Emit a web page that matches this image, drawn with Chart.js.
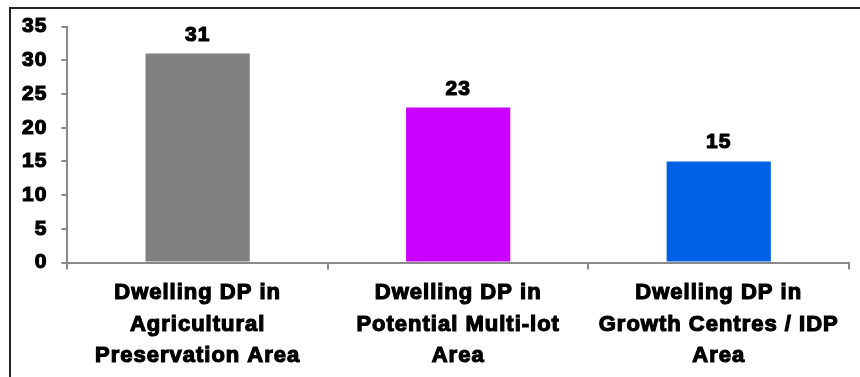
<!DOCTYPE html>
<html>
<head>
<meta charset="utf-8">
<script src="https://cdn.jsdelivr.net/npm/chart.js@4"></script>
<style>
  html, body { margin: 0; padding: 0; background: #fff; }
  #wrap { position: relative; width: 860px; height: 377px; overflow: hidden; }
  #frame { position: absolute; left: 9px; top: 7px; right: -10px; bottom: -10px;
           border-top: 2px solid #222; border-left: 2px solid #222; }
  canvas { position: absolute; left: 0; top: 0; }
</style>
</head>
<body>
<div id="wrap">
  <div id="frame"></div>
  <canvas id="c" width="860" height="377"></canvas>
</div>
<script>
// Development permits by area
const categories = [
  ["Dwelling DP in", "Agricultural", "Preservation Area"],
  ["Dwelling DP in", "Potential Multi-lot", "Area"],
  ["Dwelling DP in", "Growth Centres / IDP", "Area"]
];
const permitCounts = [31, 23, 15];
const barColors = ["#808080", "#CC00FF", "#0060E6"];
const yTicks = [0, 5, 10, 15, 20, 25, 30, 35];

const FONT = "'Liberation Sans', Arial, sans-serif";
const AXIS = "#8a8a8a";
const HEAVY = 1.2;   // extra stroke to thicken the bold glyphs

// Slightly spaced, heavy lettering for every text on the canvas
const heavyText = {
  id: 'heavyText',
  beforeInit(chart) { chart.ctx.letterSpacing = '1px'; },
  beforeLayout(chart) { chart.ctx.letterSpacing = '1px'; },
  beforeDraw(chart) { chart.ctx.letterSpacing = '1px'; }
};

// Value labels above each bar
const valueLabels = {
  id: 'valueLabels',
  afterDatasetsDraw(chart) {
    const ctx = chart.ctx;
    ctx.save();
    ctx.font = "bold 21px " + FONT;
    ctx.fillStyle = "#000";
    ctx.strokeStyle = "#000";
    ctx.lineWidth = HEAVY;
    ctx.lineJoin = "round";
    ctx.textAlign = "center";
    ctx.textBaseline = "alphabetic";
    chart.data.datasets.forEach((ds, di) => {
      chart.getDatasetMeta(di).data.forEach((bar, i) => {
        const t = String(ds.data[i]);
        ctx.strokeText(t, bar.x, bar.y - 13);
        ctx.fillText(t, bar.x, bar.y - 13);
      });
    });
    ctx.restore();
  }
};

new Chart(document.getElementById('c'), {
  type: 'bar',
  data: {
    labels: categories,
    datasets: [{
      data: permitCounts,
      backgroundColor: barColors,
      borderWidth: 0,
      categoryPercentage: 1,
      barPercentage: 0.4
    }]
  },
  options: {
    responsive: false,
    animation: false,
    devicePixelRatio: 1,
    layout: { padding: { left: 8, right: 11, top: 24, bottom: -3 } },
    plugins: { legend: { display: false }, tooltip: { enabled: false } },
    scales: {
      x: {
        grid: { offset: true, drawOnChartArea: false, color: AXIS, lineWidth: 2, tickLength: 7 },
        border: { color: AXIS, width: 2 },
        ticks: {
          color: "#000",
          textStrokeColor: "#000",
          textStrokeWidth: HEAVY,
          font: { family: FONT, size: 22, weight: 'bold', lineHeight: 1.43 },
          padding: 8,
          maxRotation: 0,
          autoSkip: false
        }
      },
      y: {
        min: 0, max: 35,
        afterBuildTicks(axis) { axis.ticks = yTicks.map(v => ({ value: v })); },
        grid: { drawOnChartArea: false, color: AXIS, lineWidth: 2, tickLength: 6 },
        border: { color: AXIS, width: 2 },
        ticks: {
          color: "#000",
          textStrokeColor: "#000",
          textStrokeWidth: HEAVY,
          font: { family: FONT, size: 21, weight: 'bold' },
          padding: 14
        }
      }
    }
  },
  plugins: [heavyText, valueLabels]
});
</script>
</body>
</html>
